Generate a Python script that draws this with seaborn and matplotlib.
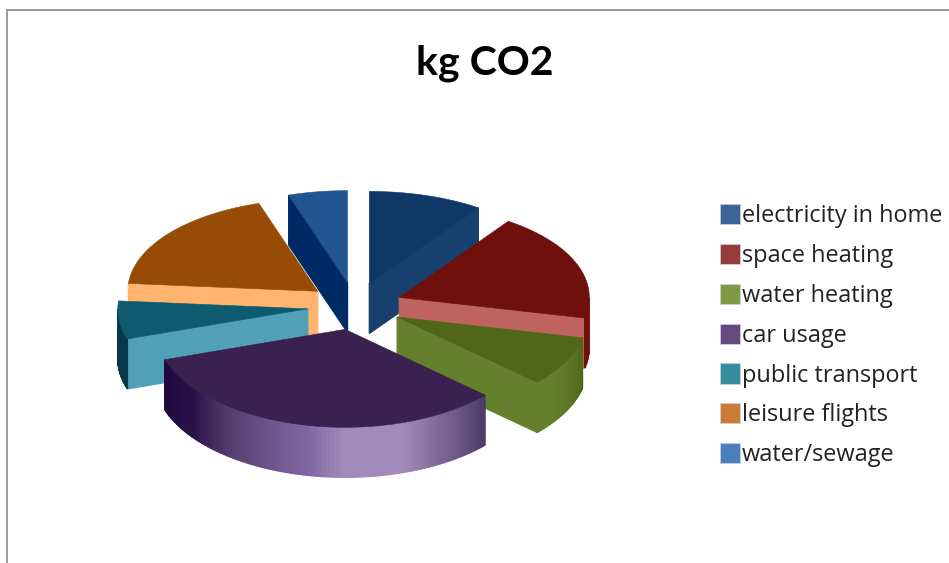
import numpy as np
import matplotlib
matplotlib.use("Agg")
import matplotlib.pyplot as plt
from matplotlib.colors import LinearSegmentedColormap
from matplotlib.patches import Patch
import seaborn as sns

# Annual household emissions by source
categories = ["electricity in home", "space heating", "water heating", "car usage",
              "public transport", "leisure flights", "water/sewage"]
kg_co2 = [970, 1870, 830, 3300, 640, 1860, 500]

legend_colors = ["#3D6497", "#983C3A", "#7F9A45", "#65497F", "#378C9E", "#C87C36", "#4C7EBD"]
top_colors = ["#0F3866", "#6F100C", "#4F6716", "#3A2150", "#0E5A6F", "#964C05", "#215490"]
face_colors = ["#17406F", "#BE6360", "#64802C", "#3A2150", "#52A0B8", "#FFB56F", "#002A66"]
rim_ramps = [
    ["#17406F", "#17406F"],
    ["#7A1A16", "#6F100C"],
    [(0.0, "#4F6716"), (0.45, "#5C7726"), (0.8, "#64802C"), (1.0, "#64802C")],
    [(0.0, "#4E3A68"), (0.25, "#A28ABB"), (0.4, "#A28ABB"), (0.5, "#8065A0"),
     (0.7, "#5A4272"), (0.85, "#2A1248"), (1.0, "#1F0840")],
    ["#06384A", "#06384A"],
    ["#964C05", "#964C05"],
    ["#215490", "#215490"],
]

sns.set_theme(style="white")
plt.rcParams["font.family"] = ["Lato", "DejaVu Sans"]

W, H = 949, 563
FRAME_L, FRAME_T = 7, 10
fig = plt.figure(figsize=(W / 100, H / 100), dpi=100, facecolor="white")
ax = fig.add_axes([FRAME_L / W, 0, 1 - FRAME_L / W, 1 - FRAME_T / H])
ax.set_xlim(FRAME_L, W)
ax.set_ylim(H, FRAME_T)
ax.set_xticks([])
ax.set_yticks([])
sns.despine(ax=ax, top=False, left=False, right=True, bottom=True)
for side in ("left", "top"):
    ax.spines[side].set_color("#9A9A9A")
    ax.spines[side].set_linewidth(1.4)

# Oblique view of the pie: disk coordinates are mapped to the canvas, with a
# slight stretch towards the viewer.
CX, CY = 355.0, 306.0
RX, RY = 190.0, 95.0
DEPTH = 50.0
EXPLODE = 0.25


def project(u, v):
    x = CX + RX * np.asarray(u)
    y = CY - RY * np.asarray(v) + 2.0 * np.asarray(v) ** 2
    return x, y


def wall(x0, y0, x1, y1, color, order):
    ax.fill([x0, x1, x1, x0], [y0, y1, y1 + DEPTH, y0 + DEPTH],
            facecolor=color, edgecolor=color, linewidth=0.9, zorder=order)


shares = np.asarray(kg_co2, dtype=float) / np.sum(kg_co2)
edges = np.deg2rad(np.concatenate([[0.0], np.cumsum(shares) * 360.0]))
mids = (edges[:-1] + edges[1:]) / 2
draw_order = np.argsort(-np.cos(mids))

for rank, i in enumerate(draw_order):
    t0, t1 = edges[i], edges[i + 1]
    mid = mids[i]
    au, av = EXPLODE * np.sin(mid), EXPLODE * np.cos(mid)
    z = 2 + rank * 3
    theta = np.linspace(t0, t1, 90)
    rim_x, rim_y = project(au + np.sin(theta), av + np.cos(theta))
    apex_x, apex_y = project(au, av)

    # Flat cut faces, drawn only when they turn towards the viewer
    if np.sin(t0) < -1e-6:
        wall(apex_x, apex_y, rim_x[0], rim_y[0], face_colors[i], z)
    if np.sin(t1) > 1e-6:
        wall(apex_x, apex_y, rim_x[-1], rim_y[-1], face_colors[i], z)

    # Curved outer wall, shaded along the arc
    ramp = LinearSegmentedColormap.from_list(f"rim{i}", rim_ramps[i])
    visible = np.where(np.cos(theta) < 0)[0]
    for k in visible[:-1]:
        frac = (k - visible[0]) / max(len(visible) - 2, 1)
        wall(rim_x[k], rim_y[k], rim_x[k + 1], rim_y[k + 1], ramp(frac), z + 1)

    # Top of the slice
    ax.fill(np.r_[apex_x, rim_x], np.r_[apex_y, rim_y], facecolor=top_colors[i],
            edgecolor=top_colors[i], linewidth=0.4, zorder=z + 2)

ax.text(485, 75, "kg CO2", ha="center", va="baseline", fontsize=29.5, fontweight="bold",
        color="#000000")

FONT = 16.9
SWATCH = 20 * 72 / 100 / FONT
handles = [Patch(facecolor=c, edgecolor="#C9D3DE", linewidth=0.5) for c in legend_colors]
legend = ax.legend(handles, categories, loc="upper left", bbox_to_anchor=(720, 204),
                   bbox_transform=ax.transData, frameon=False,
                   handlelength=SWATCH, handleheight=0.95, handletextpad=0.09,
                   labelspacing=0.667, borderpad=0, borderaxespad=0, labelcolor="#222222",
                   prop={"family": "Open Sans", "size": FONT})

fig.savefig("out.png", dpi=100, facecolor="white")
